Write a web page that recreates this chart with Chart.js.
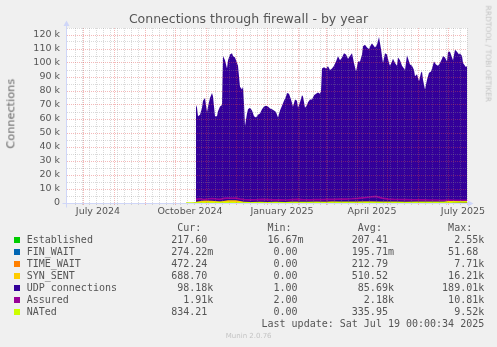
<!DOCTYPE html>
<html><head><meta charset="utf-8">
<script src="https://cdn.jsdelivr.net/npm/chart.js@4.4.1/dist/chart.umd.min.js"></script>
<style>
html,body{margin:0;padding:0;background:#F0F0F0;}
#wrap{position:relative;width:497px;height:347px;overflow:hidden;background:#F0F0F0;}
#c{position:absolute;left:0;top:0;width:497px;height:347px;}
.t{position:absolute;white-space:pre;color:#555;font-family:'DejaVu Sans',sans-serif;margin:0;}
#title{left:0;width:497px;text-align:center;top:13.4px;font-size:12.5px;line-height:12.5px;}
#ylab{font-size:11.3px;line-height:11.3px;width:120px;text-align:center;left:-48.9px;top:108.15px;transform:rotate(-90deg);color:#666;}
#rrd{font-size:7.5px;line-height:7.5px;width:140px;text-align:center;left:417.6px;top:49.55px;transform:rotate(90deg);color:#c4c4c4;}
#munin{font-size:7px;line-height:7px;width:100px;text-align:center;left:198.7px;top:333.1px;color:#c4c4c4;}
#leg{left:26.7px;top:221.8px;font-family:'DejaVu Sans Mono',monospace;font-size:10px;line-height:12px;}
.sq{position:absolute;width:6px;height:6px;left:14px;}
</style>
</head><body>
<div id="wrap">
<canvas id="c" width="497" height="347"></canvas>
<div class="t" id="title">Connections through firewall - by year</div>
<div class="t" id="ylab">Connections</div>
<div class="t" id="rrd">RRDTOOL / TOBI OETIKER</div>
<div class="t" id="munin">Munin 2.0.76</div>
<pre class="t" id="leg"></pre>
</div>
<script>
// ---- data (x = days since 2024-06-14, start of the 400-day window) ----
const days = [130,131,132,134,136,137,139,141,142,144,146,147,149,151,152,154,156,157,159,161,162,164,166,167,169,171,172,174,176,177,178,179,181,182,184,186,188,190,192,194,196,198,200,202,204,206,208,210,212,214,216,218,220,221,223,225,227,229,231,232,234,236,237,239,241,242,244,246,248,250,252,254,255,256,258,260,262,264,266,268,270,272,274,276,278,280,282,284,286,288,290,292,294,296,297,299,301,303,305,306,307,309,311,313,315,317,319,321,323,324,326,327,329,331,332,334,336,338,339,341,343,344,346,348,349,351,353,355,356,357,359,361,363,365,366,368,370,372,374,376,377,379,381,382,384,386,387,389,391,393,394,396,397,399,400,401];
const udp = [70000,68000,62000,63000,68000,73000,75000,65000,69000,75000,78600,76000,62000,62000,65500,69000,70000,105000,102000,96000,102000,106000,107000,105000,104000,100000,98000,83000,81000,83000,71000,55000,64000,67000,68000,66000,62000,61000,63000,64000,67000,69000,69500,69000,67500,67000,66000,65000,61000,66000,69500,73000,76000,78600,78000,74000,69000,74000,73000,68000,72000,77000,76000,68000,70000,72000,74000,74000,77000,78000,79000,78000,80000,96000,97000,96000,97600,95000,96000,98000,101000,104800,102000,104000,107000,106000,103000,105000,107000,100000,94000,101000,101000,106000,112000,113000,111000,110000,113000,114000,113000,111000,113000,118600,110000,100000,107000,106000,100000,98000,101000,103000,100000,98000,104000,102000,98000,96000,95000,105600,101000,99000,98000,95000,90500,92000,87000,93000,94000,88000,81000,88000,93000,94000,96000,101000,99000,98000,100000,103000,105000,104000,101000,108000,108000,104000,102000,109500,108000,106000,107000,105000,100000,98000,97000,98000];

const tcpDays = [130,138,146,154,162,170,178,186,194,202,210,218,226,234,242,250,258,266,274,282,290,298,306,314,322,330,338,346,354,362,370,378,386,394,401];
const established = [180,200,230,260,240,210,190,200,220,180,170,190,210,200,190,200,210,230,220,200,210,240,250,230,220,210,200,190,200,210,220,200,210,230,218];
const finWait = [0,0,0.2,0,0.5,0,0,0.3,0,0,0.2,0,0,0,0.4,0,0,0.2,0,0,0,0.3,0,0,0,0.2,0,0,0,0.3,0,0,0.2,0,0.27];
const timeWait = [150,180,260,300,250,200,180,190,210,170,160,180,200,190,180,200,220,250,230,210,220,260,280,240,230,210,200,190,210,230,260,240,250,300,472];
const synSent = [600,1400,1200,500,1500,1600,500,400,450,400,380,420,450,400,430,450,480,520,500,470,480,520,550,500,480,460,450,430,450,480,500,520,1500,1600,689];

const assuredDays = [130,134,138,142,146,150,154,158,162,166,170,174,178,184,190,196,202,208,214,220,226,232,238,244,250,256,262,268,274,280,286,292,298,304,310,316,322,328,334,340,346,352,358,364,370,376,382,388,394,401];
const assured = [2600,3000,2500,2800,3200,2900,2600,3300,3600,3400,3500,2800,2500,2200,2300,2600,2400,2200,2300,2100,2400,2600,2300,2200,2500,2400,2700,2600,2900,2800,3000,3300,3800,4300,4700,3500,2800,2600,2500,2400,2300,2300,2200,2100,2100,2000,2100,2000,1900,1910];

const natDays = [120,126,130,140,150,160,170,180,190,200,210,220,230,240,250,260,270,280,290,300,310,320,330,340,350,360,370,380,390,400,401];
const nated = [30,40,300,350,320,380,300,280,260,290,310,300,330,350,320,300,340,360,380,400,360,340,320,300,330,350,380,420,600,800,834];

const monthStarts = [17,48,79,109,140,170,201,232,260,291,321,352,382];
const firstSunday = 9;
const xLabelDays = [32,124,216,306,397];
const xLabelText = ['July 2024','October 2024','January 2025','April 2025','July 2025'];

const seriesNames = ['Established','FIN_WAIT','TIME_WAIT','SYN_SENT','UDP connections','Assured','NATed'];
const curVals = ['217.60','274.22m','472.24','688.70','98.18k','1.91k','834.21'];
const minVals = ['16.67m','0.00','0.00','0.00','1.00','2.00','0.00'];
const avgVals = ['207.41','195.71m','212.79','510.52','85.69k','2.18k','335.95'];
const maxVals = ['2.55k','51.68','7.71k','16.21k','189.01k','10.81k','9.52k'];
const lastUpdate = 'Last update: Sat Jul 19 00:00:34 2025';

const colors = ['#00CC00','#0066B3','#FF8000','#FFCC00','#330099','#990099','#CCFF00'];

// ---- legend text ----
function fmt(v, w){ const m = v.match(/^([\d.]+)([a-zA-Z]?)$/); return m[1].padStart(w) + (m[2] || ' '); }
const lines = [' '.repeat(25)+'Cur:'+' '.repeat(11)+'Min:'+' '.repeat(11)+'Avg:'+' '.repeat(11)+'Max:'];
seriesNames.forEach((n,i)=>{ lines.push(n.padEnd(23)+fmt(curVals[i],7)+fmt(minVals[i],14)+fmt(avgVals[i],14)+fmt(maxVals[i],14)); });
lines.push(' '.repeat(39)+lastUpdate);
document.getElementById('leg').textContent = lines.join('\n');
const wrap = document.getElementById('wrap');
colors.forEach((c,i)=>{ const d=document.createElement('div'); d.className='sq'; d.style.top=(237+12*i)+'px'; d.style.background=c; wrap.appendChild(d); });

// ---- chart ----
const gridDays = [];
for (let d = firstSunday; d <= 401; d += 7) gridDays.push(d);
monthStarts.forEach(m=>{ if(!gridDays.includes(m)) gridDays.push(m); });
gridDays.sort((a,b)=>a-b);

const G = 'rgba(143,143,143,0.33)';
const MG = 'rgba(225,70,70,0.38)';
const AX = '#CFD6F8';
const tickFont = {family:'DejaVu Sans', size:9.5};

const pts = (xs, ys) => xs.map((x,i)=>({x, y: ys[i]}));
const area = (i, xs, ys, stack, order, fill) => ({label: seriesNames[i], data: pts(xs, ys), backgroundColor: colors[i], borderColor: colors[i], borderWidth: 0, pointRadius: 0, pointHoverRadius: 0, fill, stack, order, tension: 0});
const line = (i, xs, ys, stack, order, w) => ({label: seriesNames[i], data: pts(xs, ys), borderColor: colors[i], backgroundColor: colors[i], borderWidth: w, pointRadius: 0, pointHoverRadius: 0, fill: false, stack, order, tension: 0});

const bgPlugin = {id:'bg', beforeDraw(chart){ const {ctx, chartArea:a} = chart; ctx.save(); ctx.fillStyle='#FFFFFF'; ctx.fillRect(a.left, a.top, a.right-a.left, a.bottom-a.top); ctx.restore(); }};
const arrowPlugin = {id:'arrows', afterDraw(chart){
  const {ctx, chartArea:a} = chart; const L = Math.round(a.left)+0.5, B = Math.round(a.bottom)+0.5, R = Math.round(a.right), T = Math.round(a.top);
  ctx.save(); ctx.strokeStyle = AX; ctx.fillStyle = AX; ctx.lineWidth = 1;
  ctx.beginPath(); ctx.moveTo(L, B+4); ctx.lineTo(L, T-3); ctx.stroke();
  ctx.beginPath(); ctx.moveTo(L-4, B); ctx.lineTo(R+2, B); ctx.stroke();
  ctx.beginPath(); ctx.moveTo(L-3, T-2); ctx.lineTo(L+3, T-2); ctx.lineTo(L, T-7.5); ctx.closePath(); ctx.fill();
  ctx.beginPath(); ctx.moveTo(R+1, B-3); ctx.lineTo(R+1, B+3); ctx.lineTo(R+6.5, B); ctx.closePath(); ctx.fill();
  ctx.restore(); }};

new Chart(document.getElementById('c'), {
  type: 'line',
  data: { datasets: [
    area(0, tcpDays, established, 'tcp', 5, 'origin'),
    area(1, tcpDays, finWait, 'tcp', 6, '-1'),
    area(2, tcpDays, timeWait, 'tcp', 7, '-1'),
    area(3, tcpDays, synSent, 'tcp', 8, '-1'),
    area(4, days, udp, 'udp', 20, 'origin'),
    line(5, assuredDays, assured, 'a', 2, 1.6),
    line(6, natDays, nated, 'n', 1, 1.4)
  ]},
  options: {
    responsive: false, devicePixelRatio: 1, animation: false, events: [],
    layout: { padding: { left: 0, right: 30, top: 28, bottom: 0 } },
    plugins: { legend: {display:false}, tooltip: {enabled:false}, title: {display:false} },
    scales: {
      x: { type:'linear', min:0, max:401, position:'bottom', weight:0,
        afterBuildTicks: s => { s.ticks = gridDays.map(v=>({value:v})); },
        afterFit: s => { s.height = 0; },
        ticks: { display:false },
        grid: { z:1, lineWidth:1, drawTicks:true, tickLength:2,
          color: c => monthStarts.includes(c.tick && c.tick.value) ? MG : G,
          tickColor: c => monthStarts.includes(c.tick && c.tick.value) ? MG : G },
        border: { color: AX, width:1, dash:[1,1], z:2 } },
      xl: { type:'linear', min:0, max:401, position:'bottom', weight:1,
        afterBuildTicks: s => { s.ticks = xLabelDays.map(v=>({value:v})); },
        afterFit: s => { s.height = 144; },
        grid: { display:false, drawTicks:false }, border: { display:false },
        ticks: { autoSkip:false, maxRotation:0, minRotation:0, padding:3, color:'#555', font: tickFont, callback: (v,i) => xLabelText[i] } },
      y: { type:'linear', min:0, max:125000, stacked:true,
        afterFit: s => { s.width = 66; },
        ticks: { stepSize:5000, autoSkip:false, padding:6, color:'#555', font: tickFont,
          callback: v => v === 0 ? '0' : (v % 10000 === 0 ? (v/1000) + ' k' : '') },
        grid: { z:1, lineWidth:1, drawTicks:false, color: c => (c.tick && c.tick.value % 10000 === 0) ? MG : G },
        border: { color: AX, width:1, dash:[1,1], z:2 } }
    }
  },
  plugins: [bgPlugin, arrowPlugin]
});
</script>
</body></html>
